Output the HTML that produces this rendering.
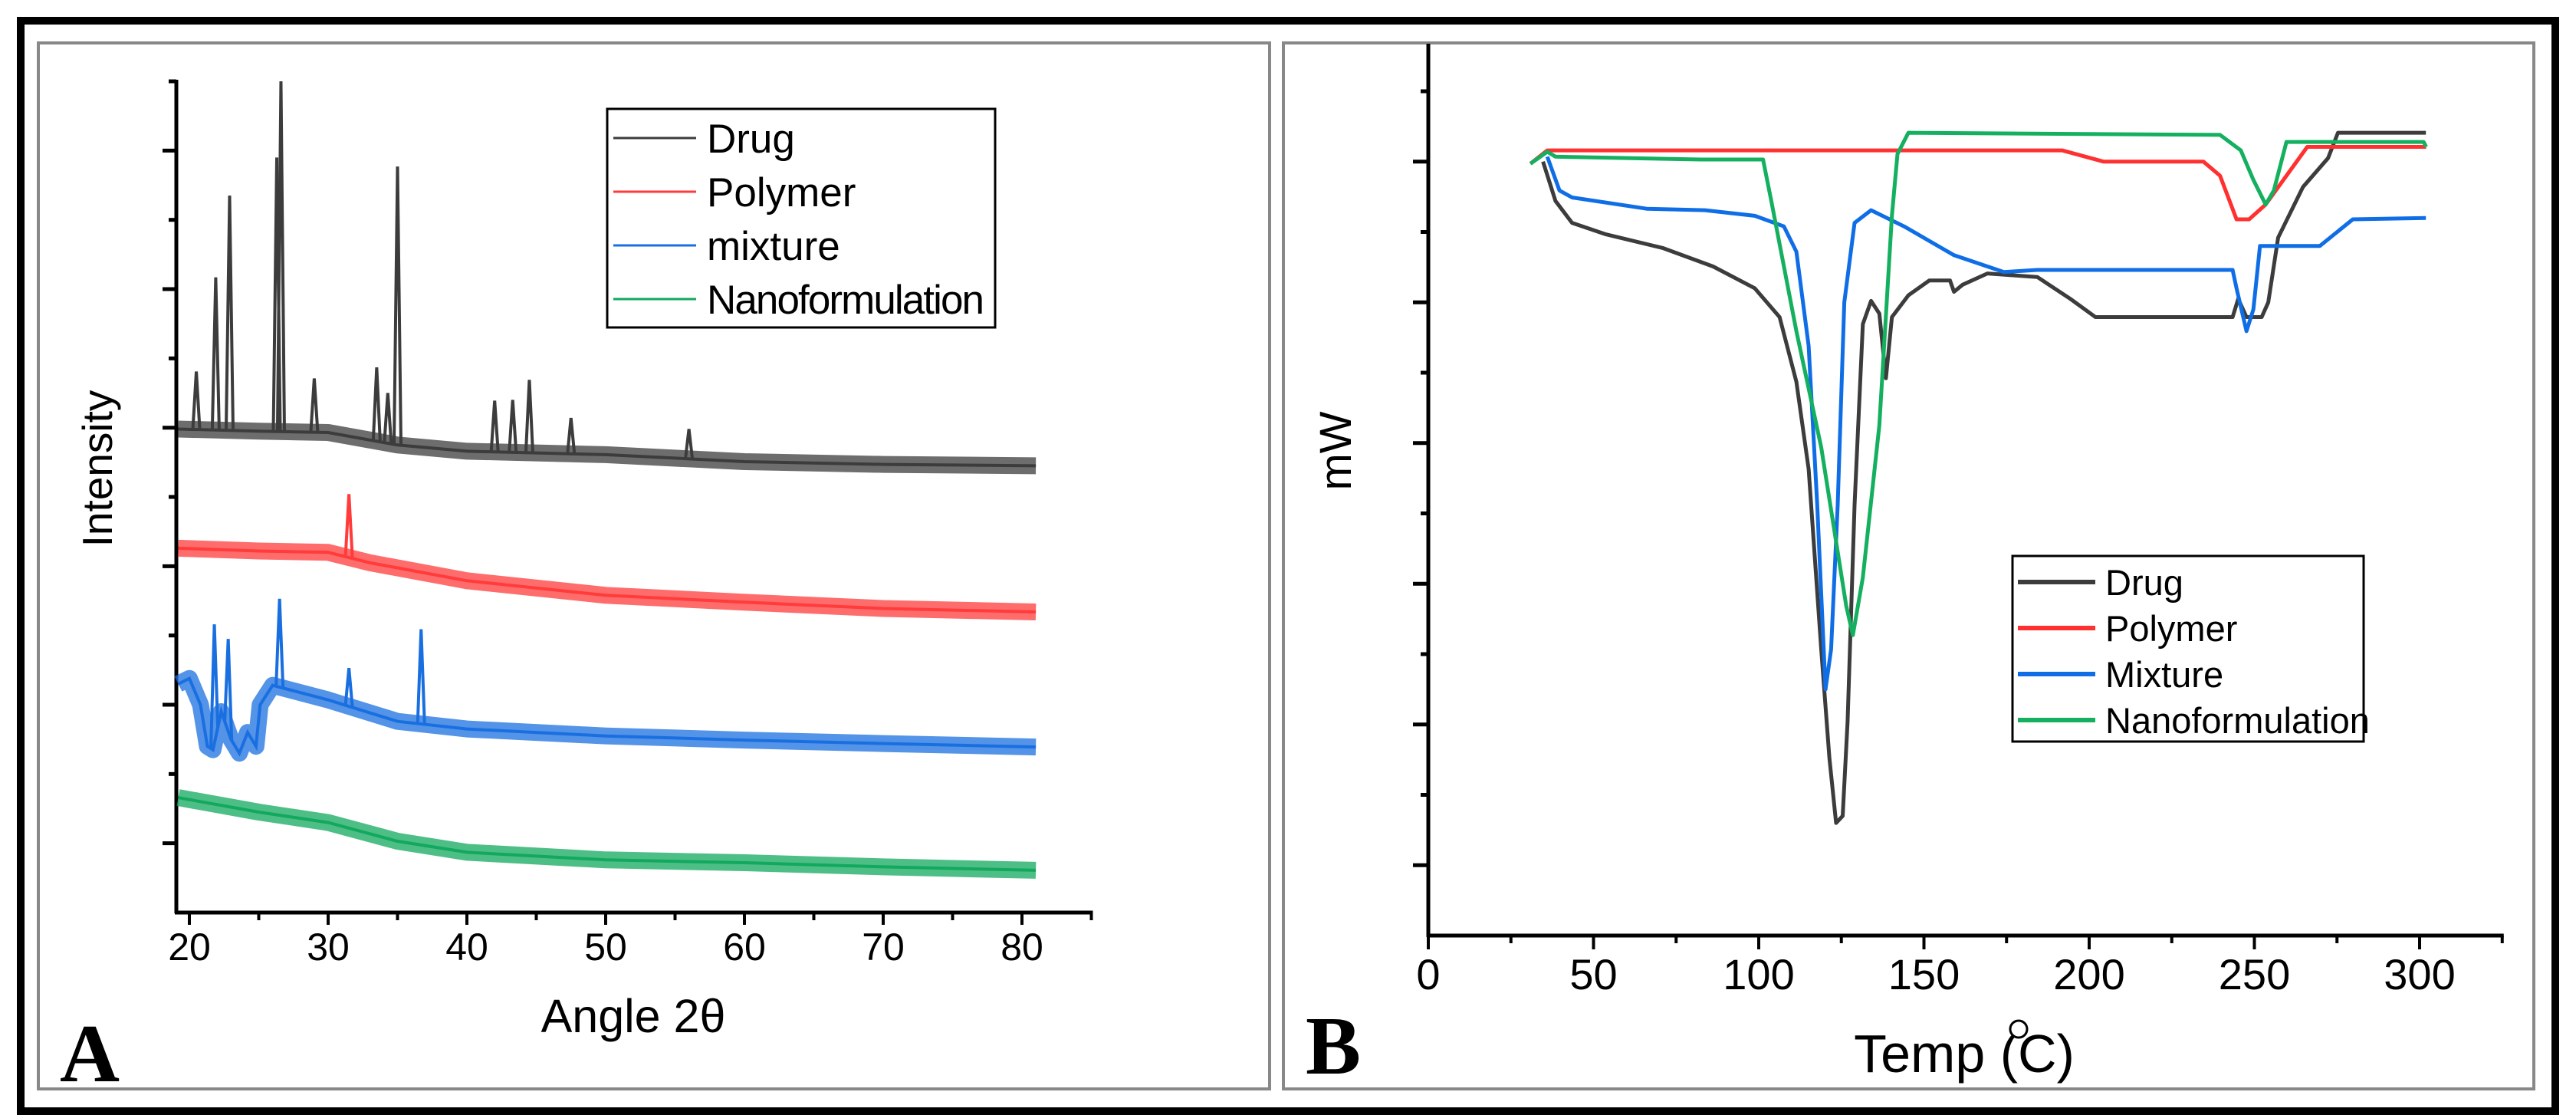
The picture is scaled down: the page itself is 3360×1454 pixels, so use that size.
<!DOCTYPE html>
<html><head><meta charset="utf-8">
<style>
html,body{margin:0;padding:0;background:#fff;}
svg{display:block;}
text{font-family:"Liberation Sans",Arial,sans-serif;}
</style></head>
<body>
<svg id="fig" width="3360" height="1454" viewBox="0 0 3360 1454" xmlns="http://www.w3.org/2000/svg">
  <rect x="27" y="27" width="3306" height="1422" fill="none" stroke="#000" stroke-width="10"/>
  <rect x="50" y="56" width="1606" height="1364" fill="none" stroke="#888" stroke-width="4"/>
  <rect x="1674" y="56" width="1631" height="1364" fill="none" stroke="#888" stroke-width="4"/>
  <g id="pa"></g>
  <g id="pb"></g>
  <text x="78" y="1410" font-weight="bold" font-size="108" style="font-family:'Liberation Serif',serif">A</text>
  <text x="1703" y="1400" font-weight="bold" font-size="108" style="font-family:'Liberation Serif',serif">B</text>
</svg>
<script>
// ---------- Panel A data (XRD) ----------
const aTicksX = [20,30,40,50,60,70,80];
const aDrugBase = [[19.2,6.98],[25,6.95],[30,6.93],[35,6.75],[40,6.66],[50,6.61],[60,6.51],[70,6.47],[81,6.45]];
const aDrugPeaks = [[20.5,7.81],[21.9,9.17],[22.9,10.35],[26.3,10.9],[26.6,12.0],[29,7.71],[33.5,7.87],[34.3,7.5],[35.0,10.77],[42,7.39],[43.3,7.4],[44.5,7.69],[47.5,7.14],[56,6.98]];
const aPolyBase = [[19.2,5.26],[25,5.22],[30,5.2],[33,5.05],[40,4.79],[50,4.58],[60,4.48],[70,4.39],[81,4.34]];
const aPolyPeaks = [[31.5,6.04]];
const aMixBase = [[19.2,3.3],[20,3.38],[20.8,3.0],[21.3,2.4],[21.7,2.35],[22.3,2.9],[23.0,2.5],[23.6,2.3],[24.2,2.6],[24.8,2.4],[25.1,3.0],[26,3.28],[30,3.07],[35,2.76],[40,2.65],[50,2.55],[60,2.49],[70,2.44],[81,2.39]];
const aMixPeaks = [[21.8,4.16],[22.8,3.95],[26.5,4.53],[31.5,3.53],[36.7,4.09]];
const aNanoBase = [[19.2,1.66],[25,1.45],[30,1.3],[35,1.03],[40,0.87],[50,0.76],[60,0.72],[70,0.66],[81,0.61]];
const aNames = ["Drug","Polymer","mixture","Nanoformulation"];
const aColors = ["#3c3c3c","#ff3b3b","#1a6fe0","#12a85e"];

// ---------- Panel B data (DSC) ----------
const bTicksX = [0,50,100,150,200,250,300];
const bDrug = [[34.7,11.0],[38.5,10.44],[43.5,10.13],[53.5,9.97],[71.1,9.77],[86.2,9.51],[98.8,9.2],[106.3,8.79],[111.4,7.87],[115.1,6.63],[118.9,4.07],[121.4,2.52],[123.4,1.6],[125.4,1.7],[126.9,3.04],[129,6.12],[131.5,8.69],[134,9.02],[136.5,8.84],[138.5,7.92],[140.3,8.79],[145.3,9.1],[151.6,9.31],[157.9,9.31],[159.1,9.15],[161.7,9.25],[169.2,9.41],[184.3,9.36],[194.3,9.05],[201.9,8.79],[243.4,8.79],[245.1,9.05],[247.6,8.79],[252.2,8.79],[254.2,9.0],[257.2,9.92],[264.7,10.64],[272.3,11.05],[275.3,11.41],[301.9,11.41]];
const bPoly = [[30.9,10.97],[36,11.16],[191.8,11.16],[204.4,11.0],[234.6,11.0],[239.6,10.8],[244.6,10.18],[248.4,10.18],[253.4,10.39],[266,11.21],[302,11.21]];
const bMix = [[36,11.07],[39.7,10.59],[43.5,10.49],[66.1,10.33],[83.7,10.31],[98.8,10.23],[107.6,10.08],[111.4,9.72],[115.1,8.38],[117.7,6.12],[120.2,3.5],[121.9,4.07],[123.9,6.12],[125.9,9.0],[129,10.13],[134,10.31],[144,10.08],[159.1,9.67],[174.2,9.43],[184.3,9.46],[243.4,9.46],[244.6,9.2],[247.6,8.59],[249.7,8.9],[251.7,9.8],[269.8,9.8],[279.8,10.18],[301.9,10.2]];
const bNano = [[30.9,10.97],[36,11.14],[38.5,11.07],[82.5,11.03],[101.3,11.03],[103.8,10.44],[111.4,8.59],[118.9,6.94],[126.5,4.68],[128.5,4.27],[131.5,5.09],[136.5,7.25],[140.3,10.23],[142,11.11],[145.3,11.41],[239.6,11.38],[245.9,11.16],[249.6,10.75],[253.4,10.39],[255.9,10.59],[259.7,11.28],[301.2,11.28],[302,11.21]];
const bNames = ["Drug","Polymer","Mixture","Nanoformulation"];
const bColors = ["#3c3c3c","#ff3030","#0f6ee6","#14b060"];

const NS = "http://www.w3.org/2000/svg";
function mk(parent, tag, attrs, txt){
  const e = document.createElementNS(NS, tag);
  for (const k in attrs) e.setAttribute(k, attrs[k]);
  if (txt !== undefined) e.textContent = txt;
  parent.appendChild(e);
  return e;
}
const axA = v => 247 + (v - 20) * 18.1;
const ayA = v => 1190 - v * 90.33;
const axB = v => 1863 + v * 4.31;
const ayB = v => 1220 - v * 91.75;

function interp(base, x){
  for (let i = 0; i < base.length - 1; i++){
    if (x >= base[i][0] && x <= base[i+1][0]){
      const t = (x - base[i][0]) / (base[i+1][0] - base[i][0]);
      return base[i][1] + t * (base[i+1][1] - base[i][1]);
    }
  }
  return base[base.length-1][1];
}
function ptsStr(arr, fx, fy){ return arr.map(p => fx(p[0]).toFixed(1) + "," + fy(p[1]).toFixed(1)).join(" "); }

// ---------- Panel A ----------
const pa = document.getElementById("pa");
const axisA = mk(pa, "g", {});


const yAxA = mk(axisA, "line", {x1:230, y1:104, x2:230, y2:1191, stroke:"#000", "stroke-width":5});


const xAxA = mk(axisA, "line", {x1:228, y1:1190, x2:axA(85)+2, y2:1190, stroke:"#000", "stroke-width":5});


for (let v = 1; v <= 12; v++){
  const len = (v % 2 === 1) ? 18 : 10;
  const t = mk(axisA, "line", {x1:230-len, y1:ayA(v), x2:230, y2:ayA(v), stroke:"#000", "stroke-width":5});
  
  
}
for (let v = 25; v <= 85; v += 10){
  const t = mk(axisA, "line", {x1:axA(v), y1:1190, x2:axA(v), y2:1200, stroke:"#000", "stroke-width":4});
  
  
}
aTicksX.forEach(v => {
  const t = mk(axisA, "line", {x1:axA(v), y1:1190, x2:axA(v), y2:1206, stroke:"#000", "stroke-width":4});
  
  
  const l = mk(axisA, "text", {x:axA(v), y:1252, "font-size":50, "text-anchor":"middle"}, String(v));
  
  
});
const xtA = mk(axisA, "text", {x:826, y:1346, "font-size":61, "text-anchor":"middle"}, "Angle 2θ");


const ytA = mk(axisA, "text", {x:0, y:0, "font-size":55, "text-anchor":"middle", transform:"translate(146,611) rotate(-90)"}, "Intensity");



const aSeries = [[aDrugBase,aDrugPeaks],[aPolyBase,aPolyPeaks],[aMixBase,aMixPeaks],[aNanoBase,[]]];
aSeries.forEach((s, i) => {
  const base = s[0], peaks = s[1];
  const g = mk(pa, "g", {});
  
  
  const band = mk(g, "polyline", {points:ptsStr(base, axA, ayA), fill:"none", stroke:aColors[i], "stroke-width":22, "stroke-opacity":0.75, "stroke-linejoin":"round"});
  
  
  const line = mk(g, "polyline", {points:ptsStr(base, axA, ayA), fill:"none", stroke:aColors[i], "stroke-width":4});
  
  
  peaks.forEach(p => {
    const b1 = interp(base, p[0]-0.25), b2 = interp(base, p[0]+0.25);
    const pk = mk(g, "polyline", {points:[axA(p[0]-0.25)+","+ayA(b1), axA(p[0])+","+ayA(p[1]), axA(p[0]+0.25)+","+ayA(b2)].join(" "), fill:"none", stroke:aColors[i], "stroke-width":4});
    
    
  });
});
const legA = mk(pa, "g", {});


mk(legA, "rect", {x:792, y:142, width:506, height:285, fill:"#fff", stroke:"#000", "stroke-width":3});
aNames.forEach((n, i) => {
  const y = 180 + i * 70;
  const e = mk(legA, "g", {});
  
  
  mk(e, "line", {x1:800, y1:y, x2:908, y2:y, stroke:aColors[i], "stroke-width":3});
  mk(e, "text", {x:922, y:y+19, "font-size":53, textLength: n.length > 10 ? 362 : null}, n);
});
legA.querySelectorAll('text').forEach(t => { if (t.getAttribute('textLength') === 'null') t.removeAttribute('textLength'); });

// ---------- Panel B ----------
const pb = document.getElementById("pb");
const axisB = mk(pb, "g", {});


const yAxB = mk(axisB, "line", {x1:1863, y1:57, x2:1863, y2:1222, stroke:"#000", "stroke-width":5});


const xAxB = mk(axisB, "line", {x1:1861, y1:1220, x2:axB(325)+2, y2:1220, stroke:"#000", "stroke-width":5});


for (let v = 1; v <= 12; v++){
  const len = (v % 2 === 1) ? 20 : 10;
  const t = mk(axisB, "line", {x1:1863-len, y1:ayB(v), x2:1863, y2:ayB(v), stroke:"#000", "stroke-width":5});
  
  
}
for (let v = 25; v <= 325; v += 50){
  const t = mk(axisB, "line", {x1:axB(v), y1:1220, x2:axB(v), y2:1230, stroke:"#000", "stroke-width":4});
  
  
}
bTicksX.forEach(v => {
  const t = mk(axisB, "line", {x1:axB(v), y1:1220, x2:axB(v), y2:1238, stroke:"#000", "stroke-width":4});
  
  
  const l = mk(axisB, "text", {x:axB(v), y:1290, "font-size":56, "text-anchor":"middle"}, String(v));
  
  
});
const xtB = mk(axisB, "text", {x:2562, y:1398, "font-size":70, "text-anchor":"middle"}, "Temp (C)");


const deg = mk(axisB, "circle", {cx:2633, cy:1342, r:11, fill:"#fff", stroke:"#000", "stroke-width":3});


const ytB = mk(axisB, "text", {x:0, y:0, "font-size":58, "text-anchor":"middle", transform:"translate(1762,588) rotate(-90)"}, "mW");



[bDrug, bPoly, bMix, bNano].forEach((s, i) => {
  const l = mk(pb, "polyline", {points:ptsStr(s, axB, ayB), fill:"none", stroke:bColors[i], "stroke-width":5, "stroke-linejoin":"round"});
  
  
});
const legB = mk(pb, "g", {});


mk(legB, "rect", {x:2625, y:725, width:458, height:242, fill:"#fff", stroke:"#000", "stroke-width":3});
bNames.forEach((n, i) => {
  const y = 759 + i * 60;
  const e = mk(legB, "g", {});
  
  
  mk(e, "line", {x1:2632, y1:y, x2:2733, y2:y, stroke:bColors[i], "stroke-width":6});
  mk(e, "text", {x:2746, y:y+17, "font-size":47}, n);
});
</script>
</body></html>
